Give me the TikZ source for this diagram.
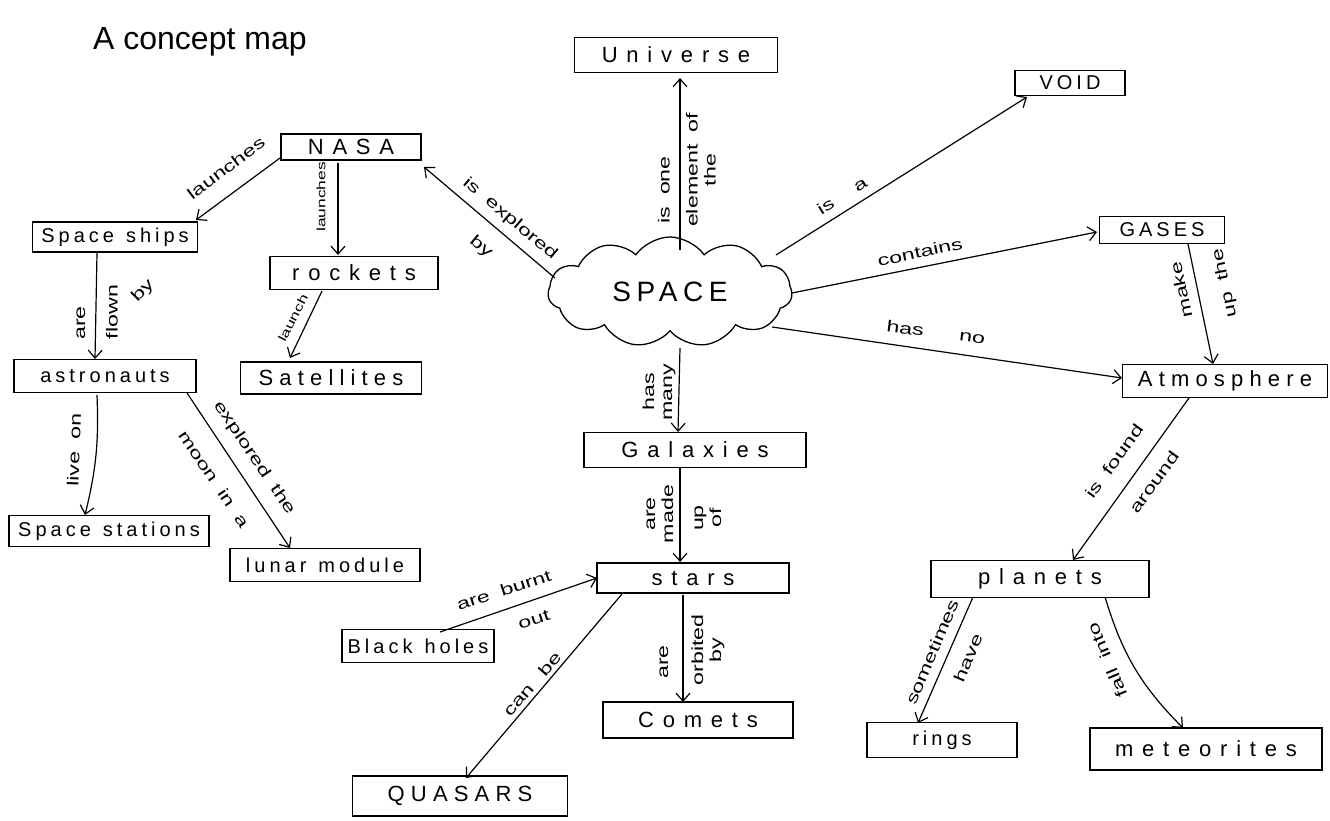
\documentclass[tikz,border=0pt]{standalone}
\usepackage{fontspec}
\setmainfont{Liberation Sans}
\newfontfamily\hand[LetterSpace=20]{Liberation Sans}
\newfontfamily\handm[LetterSpace=28]{Liberation Sans}
\newfontfamily\handw[LetterSpace=40]{Liberation Sans}
\newfontfamily\handl[FakeStretch=1.45]{Liberation Sans}
\newcommand{\gap}{\hspace{12pt}}
\usetikzlibrary{arrows.meta,shapes.symbols,calc}
\begin{document}
\begin{tikzpicture}[x=1pt,y=-1pt,
  box/.style 2 args={draw, line width=1.3pt, inner sep=0pt, minimum width=#1, minimum height=#2, font=\hand\fontsize{20}{22}\selectfont},
  medium/.style={font=\handm\fontsize{22}{24}\selectfont},
  wide/.style={font=\handw\fontsize{22}{24}\selectfont},
  lbl/.style={inner sep=0pt, align=center, font=\handl\fontsize{16}{18}\selectfont},
  small/.style={font=\handl\fontsize{12}{14}\selectfont},
  arr/.style={line width=1.2pt, -{Straight Barb[length=8pt,width=14pt,line width=1.2pt]}},
]
\useasboundingbox (0,0) rectangle (1330,821);

% title
\node[anchor=base west, inner sep=0pt, font=\fontsize{32}{36}\selectfont] (title) at (93,50) {A concept map};

% concept boxes
\node[cloud, draw, line width=1.3pt, cloud puffs=11, cloud puff arc=110, aspect=2.2,
      minimum width=244pt, minimum height=110pt, inner sep=0pt,
      font=\hand\fontsize{28}{30}\selectfont] (space) at (670,292) {SPACE};
\node[box={203pt}{35pt}, wide] (universe) at (676,55) {Universe};
\node[box={110pt}{25pt}] (void) at (1070,83) {VOID};
\node[box={140pt}{26pt}, wide] (nasa) at (351,147) {NASA};
\node[box={165pt}{30pt}] (ships) at (115,237) {Space\gap ships};
\node[box={168pt}{33pt}, wide] (rockets) at (354,273) {rockets};
\node[box={182pt}{33pt}] (astro) at (105,376) {astronauts};
\node[box={181pt}{32pt}, medium] (sat) at (331,378) {Satellites};
\node[box={200pt}{31pt}] (stations) at (109,531) {Space\gap stations};
\node[box={190pt}{33pt}] (lunar) at (325,565) {lunar\gap module};
\node[box={125pt}{27pt}] (gases) at (1162,230) {GASES};
\node[box={205pt}{33pt}, medium] (atmos) at (1225,381) {Atmosphere};
\node[box={222pt}{35pt}, wide] (galaxies) at (695,450) {Galaxies};
\node[box={192pt}{30pt}, wide] (stars) at (693,578) {stars};
\node[box={152pt}{33pt}] (black) at (418,646) {Black\gap holes};
\node[box={190pt}{36pt}, wide] (comets) at (698,720) {Comets};
\node[box={215pt}{40pt}, medium] (quasars) at (460,796) {QUASARS};
\node[box={218pt}{37pt}, wide] (planets) at (1040,579) {planets};
\node[box={150pt}{35pt}] (rings) at (942,740) {rings};
\node[box={232pt}{42pt}, wide] (meteor) at (1206,749) {meteorites};

% connectors
\draw[arr] ($(space.center)+(-115,-14)$) -- ($(nasa.center)+(73,20)$);
\draw[arr] ($(space.center)+(10,-42)$) -- ($(universe.center)+(4,23)$);
\draw[arr] ($(space.center)+(106,-37)$) -- ($(void.center)+(-43,14)$);
\draw[arr] ($(space.center)+(122,1)$) -- ($(gases.center)+(-65,2)$);
\draw[arr] ($(space.center)+(102,35)$) -- ($(atmos.center)+(-103,-3)$);
\draw[arr] ($(gases.center)+(26,14)$) -- ($(atmos.center)+(-12,-17)$);
\draw[arr] ($(nasa.center)+(-71,11)$) -- ($(ships.center)+(81,-17)$);
\draw[arr] ($(nasa.center)+(-13,16)$) -- ($(rockets.center)+(-16,-18)$);
\draw[arr] ($(rockets.center)+(-32,18)$) -- ($(sat.center)+(-41,-20)$);
\draw[arr] ($(ships.center)+(-18,16)$) -- ($(astro.center)+(-10,-17)$);
\draw[arr] ($(astro.center)+(-8,19)$) to[bend left=8] ($(stations.center)+(-24,-16)$);
\draw[arr] ($(astro.center)+(82,17)$) -- ($(lunar.center)+(-35,-17)$);
\draw[arr] ($(space.center)+(10,56)$) -- ($(galaxies.center)+(-17,-18)$);
\draw[arr] ($(galaxies.center)+(-15,18)$) -- ($(stars.center)+(-13,-16)$);
\draw[arr] ($(black.center)+(22,-14)$) -- ($(stars.center)+(-96,0)$);
\draw[arr] ($(stars.center)+(-71,16)$) -- ($(quasars.center)+(6,-18)$);
\draw[arr] ($(stars.center)+(-10,17)$) -- ($(comets.center)+(-15,-18)$);
\draw[arr] ($(atmos.center)+(-36,17)$) -- ($(planets.center)+(33,-19)$);
\draw[arr] ($(planets.center)+(-67,18)$) -- ($(rings.center)+(-24,-17)$);
\draw[arr] ($(planets.center)+(65,18)$) to[bend right=14] ($(meteor.center)+(-23,-21)$);

% connector labels
\node[lbl, rotate=-40] (l1a) at (510,219) {is\gap explored};
\node[lbl, rotate=-40] (l1b) at (481,247) {by};
\node[lbl, rotate=90] (l2a) at (664,190) {is\gap one};
\node[lbl, rotate=90] (l2b) at (701,170) {element\gap of\\the};
\node[lbl, rotate=32] (l3) at (842,196) {is\hspace{26pt}a};
\node[lbl, rotate=12] (l4) at (920,252) {contains};
\node[lbl, rotate=-7] (l5) at (936,332) {has\hspace{36pt}no};
\node[lbl, rotate=102] (l6a) at (1181,290) {make};
\node[lbl, rotate=102] (l6b) at (1225,283) {up\gap the};
\node[lbl, rotate=37] (l7) at (226,168) {launches};
\node[lbl, small, rotate=90] (l8) at (321,197) {launches};
\node[lbl, small, rotate=63] (l9) at (293,318) {launch};
\node[lbl, rotate=90] (l10a) at (81,323) {are};
\node[lbl, rotate=90] (l10b) at (112,312) {flown};
\node[lbl, rotate=45] (l10c) at (143,291) {by};
\node[lbl, rotate=88] (l11) at (74,450) {live\gap on};
\node[lbl, rotate=-56] (l12a) at (254,458) {explored\gap the};
\node[lbl, rotate=-56] (l12b) at (214,479) {moon\gap in\gap a};
\node[lbl, rotate=90] (l13) at (659,392) {has\\many};
\node[lbl, rotate=90] (l14a) at (660,514) {are\\made};
\node[lbl, rotate=90] (l14b) at (708,518) {up\\of};
\node[lbl, rotate=18] (l15a) at (504,590) {are\gap burnt};
\node[lbl, rotate=18] (l15b) at (534,620) {out};
\node[lbl, rotate=49] (l16) at (532,684) {can\hspace{16pt}be};
\node[lbl, rotate=90] (l17a) at (664,662) {are};
\node[lbl, rotate=90] (l17b) at (708,650) {orbited\\by};
\node[lbl, rotate=54] (l18a) at (1114,461) {is\gap found};
\node[lbl, rotate=54] (l18b) at (1154,482) {around};
\node[lbl, rotate=67] (l19a) at (932,652) {sometimes};
\node[lbl, rotate=67] (l19b) at (968,658) {have};
\node[lbl, rotate=113] (l20) at (1107,660) {fall\gap into};
\end{tikzpicture}
\end{document}
